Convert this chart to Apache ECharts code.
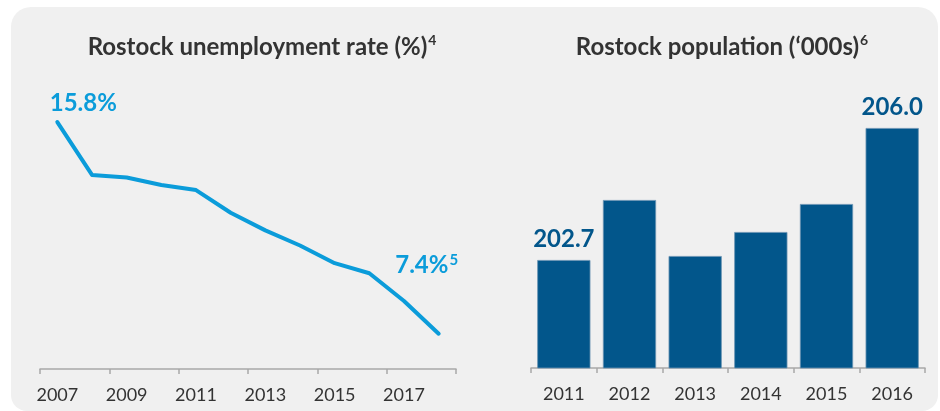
<!DOCTYPE html>
<html>
<head>
<meta charset="utf-8">
<script src="https://cdn.jsdelivr.net/npm/echarts@6/dist/echarts.min.js"></script>
<style>
  html, body { margin: 0; padding: 0; background: #ffffff; }
  #chart { width: 940px; height: 411px; }
</style>
</head>
<body>
<div id="chart"></div>
<script>
// Unemployment rate, Rostock (%)
const rateYears = ['2007', '2008', '2009', '2010', '2011', '2012', '2013', '2014', '2015', '2016', '2017', '2018'];
const rateValues = [15.8, 13.7, 13.6, 13.3, 13.1, 12.2, 11.5, 10.9, 10.2, 9.8, 8.7, 7.4];

// Population, Rostock ('000s)
const popYears = ['2011', '2012', '2013', '2014', '2015', '2016'];
const popValues = [202.7, 204.2, 202.8, 203.4, 204.1, 206.0];

const FONT = 'Lato, "Open Sans", sans-serif';
const LINE_BLUE = '#0b9cda';
const BAR_BLUE = '#02568b';
const TEXT_DARK = '#333333';
const AXIS_GREY = '#a8a8a8';

const chart = echarts.init(document.getElementById('chart'), null, { renderer: 'canvas' });

function titleRich() {
  return {
    t: { fontFamily: FONT, fontWeight: 'bold', fontSize: 24, color: TEXT_DARK, lineHeight: 28 },
    s: { fontFamily: FONT, fontWeight: 'bold', fontSize: 14, color: TEXT_DARK, lineHeight: 28, verticalAlign: 'top', padding: [0, 0, 12, 1] }
  };
}

function rateRich() {
  return {
    v: { fontFamily: FONT, fontWeight: 'bold', fontSize: 24, color: LINE_BLUE, lineHeight: 26 },
    s: { fontFamily: FONT, fontWeight: 'bold', fontSize: 15, color: LINE_BLUE, lineHeight: 26, verticalAlign: 'top', padding: [0, 0, 10, 1] }
  };
}

const lastRate = rateValues.length - 1;
const lastPop = popValues.length - 1;

const option = {
  backgroundColor: '#ffffff',
  animation: false,
  graphic: [{
    type: 'rect',
    z: -10,
    silent: true,
    shape: { x: 11, y: 7, width: 927, height: 404, r: [20, 20, 16, 16] },
    style: { fill: '#f0f0f0' }
  }],
  title: [{
    text: '{t|Rostock unemployment rate (%)}{s|4}',
    left: 262,
    top: 33,
    padding: 0,
    textAlign: 'center',
    textStyle: { rich: titleRich() }
  }, {
    text: "{t|Rostock population (\u2018000s)}{s|6}",
    left: 722,
    top: 33,
    padding: 0,
    textAlign: 'center',
    textStyle: { rich: titleRich() }
  }],
  grid: [
    { left: 40, right: 484, top: 117, bottom: 42 },
    { left: 531, right: 15, top: 88, bottom: 43 }
  ],
  xAxis: [{
    gridIndex: 0,
    type: 'category',
    data: rateYears,
    boundaryGap: true,
    axisLine: { lineStyle: { color: AXIS_GREY, width: 1.5 } },
    axisTick: { show: true, interval: 1, length: 5, lineStyle: { color: AXIS_GREY, width: 1.5 } },
    axisLabel: { interval: 1, margin: 17, fontFamily: FONT, fontSize: 18, color: TEXT_DARK }
  }, {
    gridIndex: 1,
    type: 'category',
    data: popYears,
    boundaryGap: true,
    axisLine: { lineStyle: { color: AXIS_GREY, width: 1.5 } },
    axisTick: { show: true, length: 5, lineStyle: { color: AXIS_GREY, width: 1.5 } },
    axisLabel: { margin: 17, fontFamily: FONT, fontSize: 18, color: TEXT_DARK }
  }],
  yAxis: [{
    gridIndex: 0, type: 'value', min: 6, max: 16, show: false
  }, {
    gridIndex: 1, type: 'value', min: 200, max: 207, show: false
  }],
  series: [{
    type: 'line',
    xAxisIndex: 0,
    yAxisIndex: 0,
    data: rateValues.map((v, i) => {
      if (i === 0) {
        return {
          value: v,
          label: {
            show: true, position: 'top', distance: 5, offset: [26, 0],
            fontFamily: FONT, fontWeight: 'bold', fontSize: 24, color: LINE_BLUE,
            formatter: p => '{v|' + p.value.toFixed(1) + '%}',
            rich: rateRich()
          }
        };
      }
      if (i === lastRate) {
        return {
          value: v,
          label: {
            show: true, position: 'top', distance: 5, offset: [-12, -49],
            fontFamily: FONT, fontWeight: 'bold', fontSize: 24, color: LINE_BLUE,
            formatter: p => '{v|' + p.value.toFixed(1) + '%}{s|5}',
            rich: rateRich()
          }
        };
      }
      return v;
    }),
    symbol: 'circle',
    symbolSize: 2,
    showSymbol: true,
    lineStyle: { color: LINE_BLUE, width: 4, cap: 'round', join: 'round' },
    itemStyle: { color: LINE_BLUE }
  }, {
    type: 'bar',
    xAxisIndex: 1,
    yAxisIndex: 1,
    barCategoryGap: '19%',
    data: popValues.map((v, i) => {
      if (i === 0 || i === lastPop) {
        return {
          value: v,
          label: {
            show: true, position: 'top', distance: 9,
            formatter: p => p.value.toFixed(1),
            fontFamily: FONT, fontWeight: 'bold', fontSize: 24, color: BAR_BLUE, lineHeight: 24
          }
        };
      }
      return v;
    }),
    itemStyle: { color: BAR_BLUE, borderColor: '#6a93b3', borderWidth: 0.8 }
  }]
};

chart.setOption(option);
</script>
</body>
</html>
